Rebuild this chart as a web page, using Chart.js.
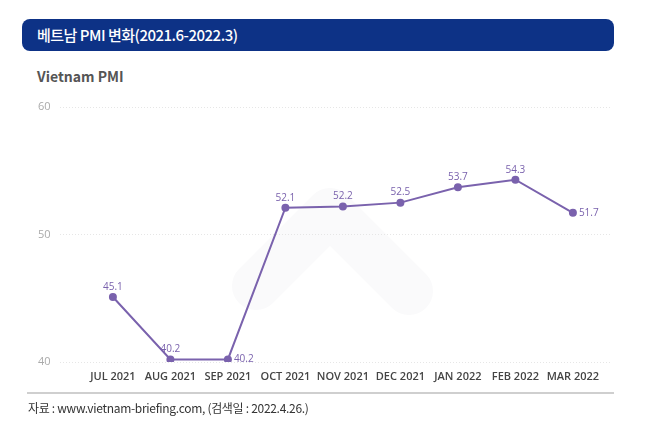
<!DOCTYPE html>
<html>
<head>
<meta charset="utf-8">
<script src="https://cdn.jsdelivr.net/npm/chart.js@4.4.0/dist/chart.umd.min.js"></script>
<style>
  html, body { margin: 0; padding: 0; background: #fff; }
  body { width: 652px; height: 439px; position: relative; overflow: hidden; font-family: "Noto Sans CJK KR", "Noto Sans", sans-serif; }
  .title-bar { position: absolute; left: 22px; top: 19px; width: 592px; height: 32px; background: #0d3286; border-radius: 8px; }
  .title-bar span { position: absolute; left: 15px; top: 5px; color: #fff; font-size: 15px; font-weight: 500; letter-spacing: -0.5px; }
  .subtitle { position: absolute; left: 37px; top: 66px; color: #555; font-size: 14px; font-weight: 600; }
  .rule { position: absolute; left: 27px; top: 392px; width: 587px; height: 2px; background: #cfcfcf; }
  .source { position: absolute; left: 28px; top: 399px; color: #333; font-size: 12px; letter-spacing: -0.3px; }
  .mark { position: absolute; left: 0; top: 0; }
  #chart { position: absolute; left: 0; top: 0; }
</style>
</head>
<body>
<div class="title-bar"><span>베트남 PMI 변화(2021.6-2022.3)</span></div>
<div class="subtitle">Vietnam PMI</div>
<svg class="mark" width="652" height="439"><polyline points="256,286 330,212 409,291" fill="none" stroke="#fafafb" stroke-width="48" stroke-linecap="round" stroke-linejoin="round"/></svg>
<canvas id="chart" width="652" height="439"></canvas>
<div class="rule"></div>
<div class="source">자료 : www.vietnam-briefing.com, (검색일 : 2022.4.26.)</div>
<script>
const months = ['JUL 2021', 'AUG 2021', 'SEP 2021', 'OCT 2021', 'NOV 2021', 'DEC 2021', 'JAN 2022', 'FEB 2022', 'MAR 2022'];
const pmi = [45.1, 40.2, 40.2, 52.1, 52.2, 52.5, 53.7, 54.3, 51.7];
const yTicks = [40, 50, 60];
// labels that sit to the right of the point instead of above
const sideLabels = ['SEP 2021', 'MAR 2022'];

const purple = '#7a62ad';

const valueLabels = {
  id: 'valueLabels',
  afterDatasetsDraw(chart) {
    const ctx = chart.ctx;
    const meta = chart.getDatasetMeta(0);
    ctx.save();
    ctx.font = '10px "Open Sans", sans-serif';
    ctx.fillStyle = purple;
    meta.data.forEach((pt, i) => {
      const txt = pmi[i].toFixed(1);
      if (sideLabels.includes(months[i])) {
        ctx.textAlign = 'left';
        ctx.textBaseline = 'middle';
        ctx.fillText(txt, pt.x + 6, pt.y);
      } else {
        ctx.textAlign = 'center';
        ctx.textBaseline = 'bottom';
        ctx.fillText(txt, pt.x, pt.y - 5);
      }
    });
    ctx.restore();
  }
};

new Chart(document.getElementById('chart').getContext('2d'), {
  type: 'line',
  data: {
    datasets: [{
      label: 'Vietnam PMI',
      data: pmi.map((v, i) => ({ x: i, y: v })),
      borderColor: purple,
      backgroundColor: purple,
      borderWidth: 2,
      pointRadius: 3,
      pointHoverRadius: 3,
      tension: 0,
      fill: false
    }]
  },
  options: {
    responsive: false,
    animation: false,
    events: [],
    layout: { padding: { left: 38, right: 40, top: 107, bottom: 47 } },
    plugins: { legend: { display: false }, tooltip: { enabled: false } },
    scales: {
      x: {
        type: 'linear',
        min: -0.92,
        max: 8.68,
        afterBuildTicks: (scale) => { scale.ticks = months.map((m, i) => ({ value: i })); },
        afterFit: (scale) => { scale.height = 30; },
        grid: { display: false, drawTicks: false },
        border: { display: false },
        ticks: {
          autoSkip: false,
          maxRotation: 0,
          padding: 8,
          color: '#444',
          font: { family: '"Open Sans", sans-serif', size: 11, weight: '600' },
          callback: (v) => months[v] || ''
        }
      },
      y: {
        min: 40,
        max: 60,
        afterBuildTicks: (scale) => { scale.ticks = yTicks.map(v => ({ value: v })); },
        afterFit: (scale) => { scale.width = 22; },
        grid: { color: '#e6e6e6', lineWidth: 1, drawTicks: false },
        border: { display: false, dash: [1, 2] },
        ticks: {
          padding: 0,
          crossAlign: 'far',
          color: '#aaa',
          font: { family: '"Open Sans", sans-serif', size: 11 }
        }
      }
    }
  },
  plugins: [valueLabels]
});
</script>
</body>
</html>
